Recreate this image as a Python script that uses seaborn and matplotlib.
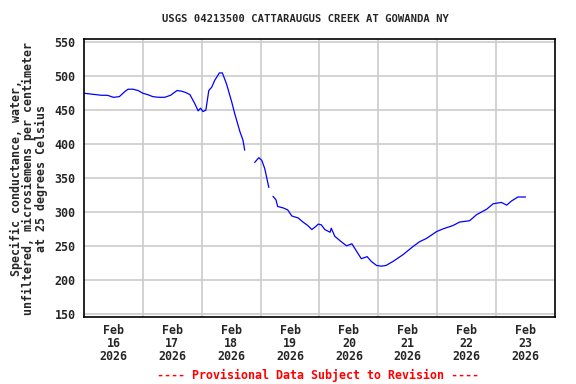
import numpy as np
import pandas as pd
import matplotlib
matplotlib.use('Agg')
import matplotlib.pyplot as plt
import seaborn as sns

# Data: days since Feb 16 2026 00:00 and specific conductance (uS/cm)
# NaN marks gaps in the record
days = [0.00, 0.10, 0.20, 0.30, 0.40, 0.50, 0.60, 0.70, 0.75, 0.83, 0.92, 1.00,
        1.08, 1.17, 1.27, 1.37, 1.47, 1.58, 1.66, 1.73, 1.80, 1.88, 1.94, 1.98,
        2.02, 2.07, 2.12, 2.17, 2.22, 2.30, 2.35, 2.42, 2.51, 2.56, 2.65, 2.70,
        2.73, 2.80,
        2.90, 2.97, 3.02, 3.07, 3.10, 3.14, 3.17,
        3.21, 3.26, 3.29, 3.38, 3.46, 3.53, 3.64, 3.72, 3.80, 3.87, 3.93, 3.98,
        4.03, 4.09, 4.18, 4.20, 4.26, 4.37, 4.46, 4.55, 4.63, 4.71, 4.81, 4.88,
        4.97, 5.05, 5.13, 5.25, 5.42, 5.59, 5.70, 5.82, 5.99, 6.10, 6.27, 6.38,
        6.55, 6.67, 6.84, 6.95, 7.09, 7.18, 7.26, 7.37, 7.50]
conductance = [475, 474, 473, 472, 472, 469, 470, 478, 481, 481, 479, 475,
               473, 470, 469, 469, 472, 479, 478, 476, 473, 460, 449, 453,
               448, 450, 479, 484, 494, 505, 505, 489, 462, 445, 418, 406,
               391, np.nan,
               373, 380, 376, 364, 352, 336, np.nan,
               323, 318, 308, 306, 303, 294, 291, 285, 280, 274, 278, 282,
               281, 274, 270, 276, 264, 256, 250, 253, 242, 231, 234, 227,
               221, 220, 221, 227, 237, 249, 256, 261, 271, 275, 280, 285,
               287, 296, 304, 312, 314, 310, 316, 322, 322]

tick_pos = [0.5, 1.5, 2.5, 3.5, 4.5, 5.5, 6.5, 7.5]
tick_labels = ['Feb\n16\n2026', 'Feb\n17\n2026', 'Feb\n18\n2026', 'Feb\n19\n2026',
               'Feb\n20\n2026', 'Feb\n21\n2026', 'Feb\n22\n2026', 'Feb\n23\n2026']
y_ticks = [150, 200, 250, 300, 350, 400, 450, 500, 550]

df = pd.DataFrame({'day': days, 'value': conductance})
# split into segments at the gaps
df['segment'] = df['value'].isna().cumsum()
df = df.dropna()

sns.set_style('white')
plt.rcParams['font.family'] = ['DejaVu Sans Mono']
plt.rcParams['font.weight'] = 'bold'

fig = plt.figure(figsize=(5.76, 3.84), dpi=100)
ax = fig.add_axes([0.1458, 0.1745, 0.8177, 0.7239])

for seg, sub in df.groupby('segment'):
    sns.lineplot(x='day', y='value', data=sub, ax=ax, color='#0000ff',
                 linewidth=0.9, estimator=None, sort=False)

ax.set_xlim(0, 8)
ax.set_ylim(145, 555)
ax.set_xticks(range(1, 8), minor=False)
ax.set_xticklabels([])
ax.set_xticks(tick_pos, minor=True)
ax.set_xticklabels(tick_labels, minor=True, fontsize=8.4, fontweight='bold',
                   linespacing=0.98)
ax.set_yticks(y_ticks)
ax.set_yticklabels([str(v) for v in y_ticks], fontsize=8.4, fontweight='bold')
ax.tick_params(axis='x', which='both', length=0, pad=5)
ax.tick_params(axis='y', which='both', length=0, pad=6)
ax.grid(True, which='major', color='#cccccc', linewidth=1.2)
ax.set_axisbelow(True)
for s in ax.spines.values():
    s.set_color('black')
    s.set_linewidth(1.2)

ax.set_xlabel('')
ax.set_ylabel('Specific conductance, water,\nunfiltered, microsiemens per centimeter\nat 25 degrees Celsius',
              fontsize=8.4, fontweight='bold', labelpad=5, linespacing=0.95)
fig.text(305 / 576, 1 - 19 / 384, 'USGS 04213500 CATTARAUGUS CREEK AT GOWANDA NY',
         ha='center', va='center', fontsize=7.6, fontweight='bold')
fig.text(318 / 576, 1 - 375 / 384, '---- Provisional Data Subject to Revision ----',
         color='red', ha='center', va='center', fontsize=8.4, fontweight='bold')

plt.savefig('out.png', dpi=100)
